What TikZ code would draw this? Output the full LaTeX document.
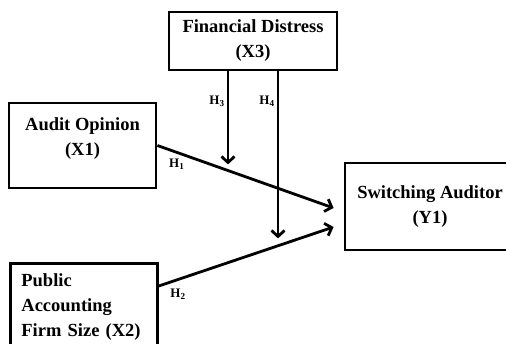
\documentclass[tikz,border=0pt]{standalone}
\usepackage{fontspec}
\setmainfont{Liberation Serif}
\usetikzlibrary{arrows.meta, positioning, calc}

\begin{document}
\begin{tikzpicture}[x=1pt, y=-1pt,
    var/.style={rectangle, draw=black, line width=2.8pt, fill=white, align=center, font=\fontsize{18.5}{25}\selectfont\bfseries},
    hyp/.style={font=\fontsize{13}{15}\selectfont\bfseries, inner sep=2pt},
    arrow/.style={-{Straight Barb[length=6pt, width=13pt]}, line width=2.8pt, color=black}
]
\useasboundingbox (0,0) rectangle (506,344);
\clip (0,0) rectangle (506,344);
\node[var, minimum width=168pt, minimum height=58pt] (distress) at (253,41) {Financial Distress\\(X3)};
\node[var, minimum width=147pt, minimum height=85pt, text depth=18pt] (opinion) at (82.5,145.5) {Audit Opinion\\(X1)};
\node[var, minimum width=170pt, minimum height=87pt] (switching) at (430,206.5) {Switching Auditor\\(Y1)};
\node[var, align=left, anchor=north west, text width=125pt, inner xsep=11pt, inner ysep=10pt] (size) at (9,262) {Public\\Accounting\\Firm Size (X2)};
\coordinate (h1end) at ($(switching.west)+(-10,1.5)$);
\coordinate (h2end) at ($(switching.west)+(-10,20.5)$);
\coordinate (h3end) at ($(distress.south)+(-25,93)$);
\coordinate (h4end) at ($(distress.south)+(25,167)$);
\draw[arrow] (opinion.east) -- node[hyp, pos=0.11, below=3pt] {H\textsubscript{1}} (h1end);
\draw[arrow] ($(size.north east)+(0,24)$) -- node[hyp, pos=0.11, below=6pt] {H\textsubscript{2}} (h2end);
\draw[arrow] ($(distress.south)+(-25,0)$) -- node[hyp, pos=0.32, left=0pt] {H\textsubscript{3}} (h3end);
\draw[arrow] ($(distress.south)+(25,0)$) -- node[hyp, pos=0.18, left=0pt] {H\textsubscript{4}} (h4end);
\end{tikzpicture}
\end{document}
